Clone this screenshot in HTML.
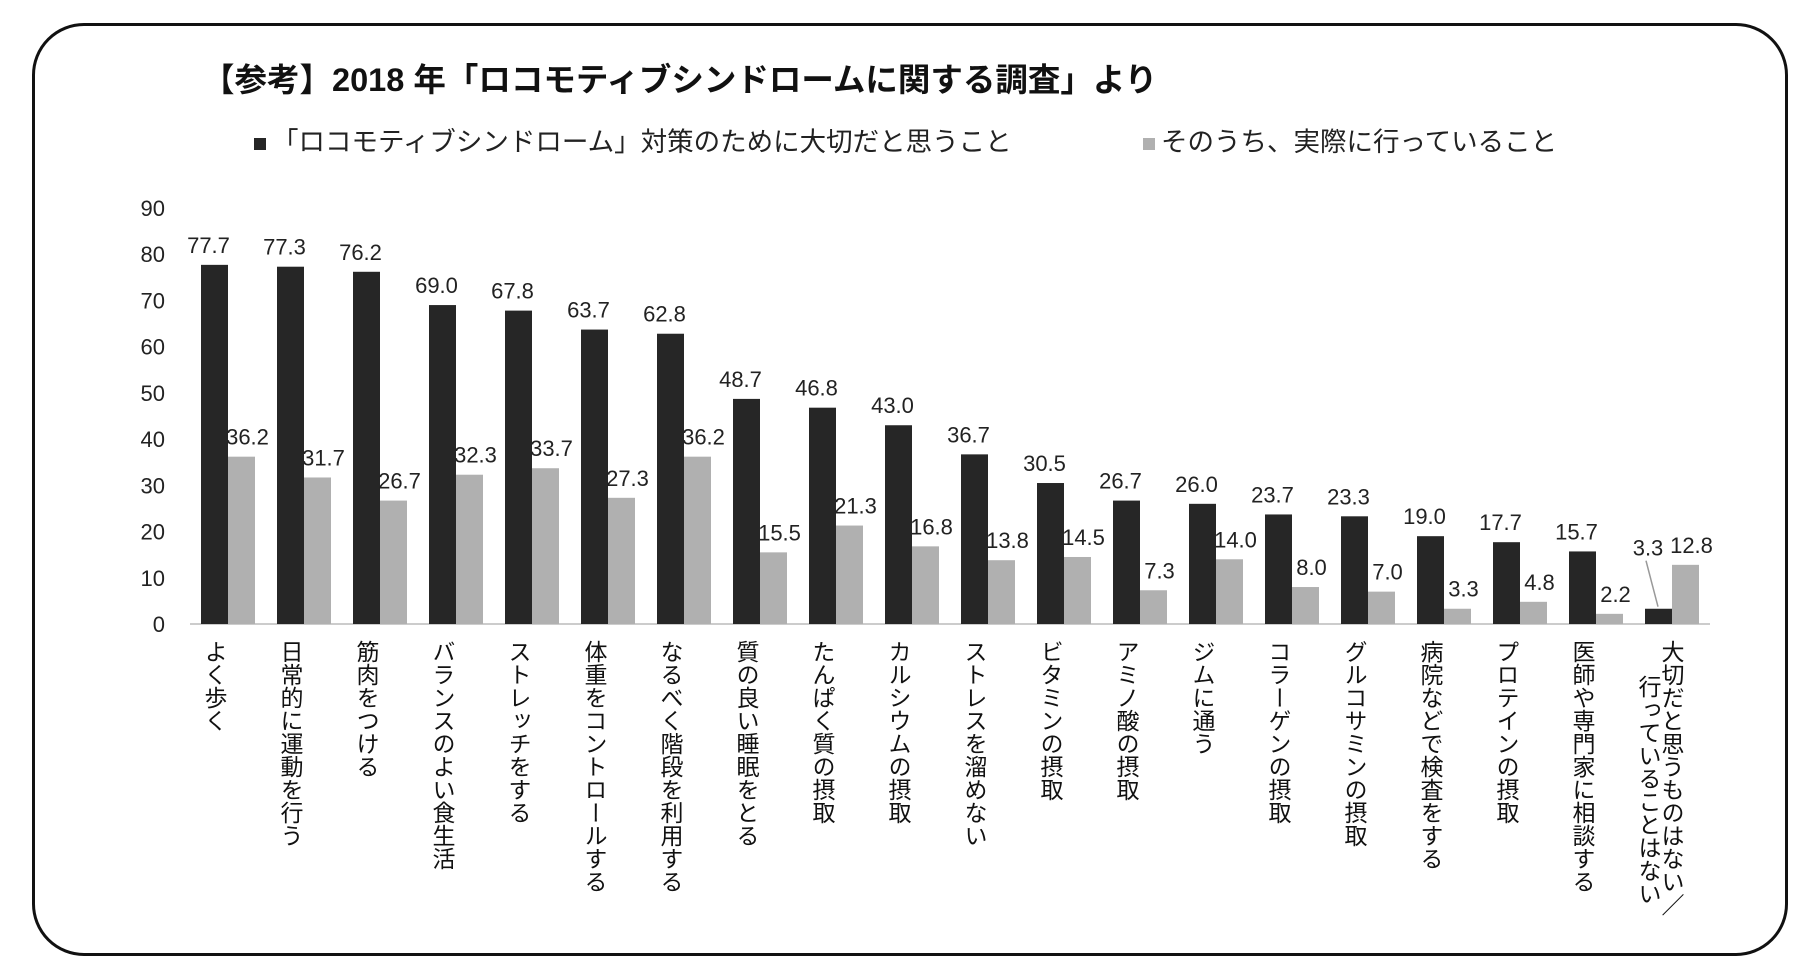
<!DOCTYPE html>
<html><head><meta charset="utf-8">
<style>
body{margin:0;background:#fff;}
#wrap{position:relative;width:1811px;height:979px;overflow:hidden;background:#fff;font-family:"Liberation Sans","Noto Sans CJK JP",sans-serif;}
#frame{position:absolute;left:32px;top:23px;width:1750px;height:927px;border:3px solid #111;border-radius:52px;}
#title{position:absolute;left:202px;top:54px;font-size:32.5px;font-weight:bold;color:#111;white-space:nowrap;}
.leg{position:absolute;top:120px;font-size:26.5px;color:#222;white-space:nowrap;}
.sw{display:inline-block;width:12px;height:12px;margin-right:6px;vertical-align:middle;}
.cat{position:absolute;top:640px;writing-mode:vertical-rl;font-size:23px;color:#111;line-height:24px;white-space:nowrap;}
</style></head><body>
<div id="wrap">
<div id="frame"></div>
<div id="title">【参考】2018 年「ロコモティブシンドロームに関する調査」より</div>
<div class="leg" style="left:254px"><span class="sw" style="background:#262626"></span>「ロコモティブシンドローム」対策のために大切だと思うこと</div>
<div class="leg" style="left:1143px"><span class="sw" style="background:#b0b0b0"></span>そのうち、実際に行っていること</div>
<svg id="chart" width="1811" height="979" style="position:absolute;left:0;top:0"></svg>
</div>
<script>
const categories=["よく歩く","日常的に運動を行う","筋肉をつける","バランスのよい食生活","ストレッチをする","体重をコントロールする","なるべく階段を利用する","質の良い睡眠をとる","たんぱく質の摂取","カルシウムの摂取","ストレスを溜めない","ビタミンの摂取","アミノ酸の摂取","ジムに通う","コラーゲンの摂取","グルコサミンの摂取","病院などで検査をする","プロテインの摂取","医師や専門家に相談する","大切だと思うものはない／"];
const importantValues=[77.7,77.3,76.2,69.0,67.8,63.7,62.8,48.7,46.8,43.0,36.7,30.5,26.7,26.0,23.7,23.3,19.0,17.7,15.7,3.3];
const practicedValues=[36.2,31.7,26.7,32.3,33.7,27.3,36.2,15.5,21.3,16.8,13.8,14.5,7.3,14.0,8.0,7.0,3.3,4.8,2.2,12.8];
const yTicks=[0,10,20,30,40,50,60,70,80,90];

const NS="http://www.w3.org/2000/svg";
const svg=document.getElementById('chart');
const wrap=document.getElementById('wrap');
const X0=190,X1=1710,Y0=624,YMAX=90,YTOP=208;
const band=(X1-X0)/categories.length;
const y=v=>Y0-(v/YMAX)*(Y0-YTOP);
const xc=i=>X0+band*(i+0.5);
const BW=27;
function mk(tag,attrs){const e=document.createElementNS(NS,tag);for(const k in attrs)e.setAttribute(k,attrs[k]);svg.appendChild(e);return e;}
yTicks.forEach(t=>{
  const e=mk('text',{x:165,y:y(t)+8,'text-anchor':'end','font-size':22,fill:'#222','font-family':'Liberation Sans, sans-serif'});
  e.textContent=t;
  
  
});
const ax=mk('line',{x1:X0,x2:X1,y1:Y0,y2:Y0,stroke:'#cccccc','stroke-width':2});


categories.forEach((c,i)=>{
  const cx=xc(i);
  const b=mk('rect',{x:cx-BW,y:y(importantValues[i]),width:BW,height:Y0-y(importantValues[i]),fill:'#262626'});
  
  
  const g=mk('rect',{x:cx,y:y(practicedValues[i]),width:BW,height:Y0-y(practicedValues[i]),fill:'#b0b0b0'});
  
  
  const last=i===categories.length-1;
  const lx=last?cx-24:cx-BW/2-6;
  const ly=last?y(importantValues[i])-53:y(importantValues[i])-12;
  const t1=mk('text',{x:lx,y:ly,'text-anchor':'middle','font-size':22,fill:'#222','font-family':'Liberation Sans, sans-serif'});
  t1.textContent=importantValues[i].toFixed(1);
  
  
  if(last){
    const l=mk('line',{x1:cx-26,y1:y(importantValues[i])-48,x2:cx-14,y2:y(importantValues[i])-2,stroke:'#999','stroke-width':1.5});
    
    
  }
  const t2=mk('text',{x:cx+BW/2+6,y:y(practicedValues[i])-12,'text-anchor':'middle','font-size':22,fill:'#222','font-family':'Liberation Sans, sans-serif'});
  t2.textContent=practicedValues[i].toFixed(1);
  
  
  const d=document.createElement('div');
  d.className='cat';
  d.style.left=(cx-26)+'px';
  d.textContent=c;
  
  
  wrap.appendChild(d);
  if(last){
    d.style.left=(cx-13)+'px';
    const d2=document.createElement('div');
    d2.className='cat';
    d2.style.left=(cx-36)+'px';
    d2.style.top='675px';
    d2.textContent='行っていることはない';
    
    
    wrap.appendChild(d2);
  }
});
</script>
</body></html>
